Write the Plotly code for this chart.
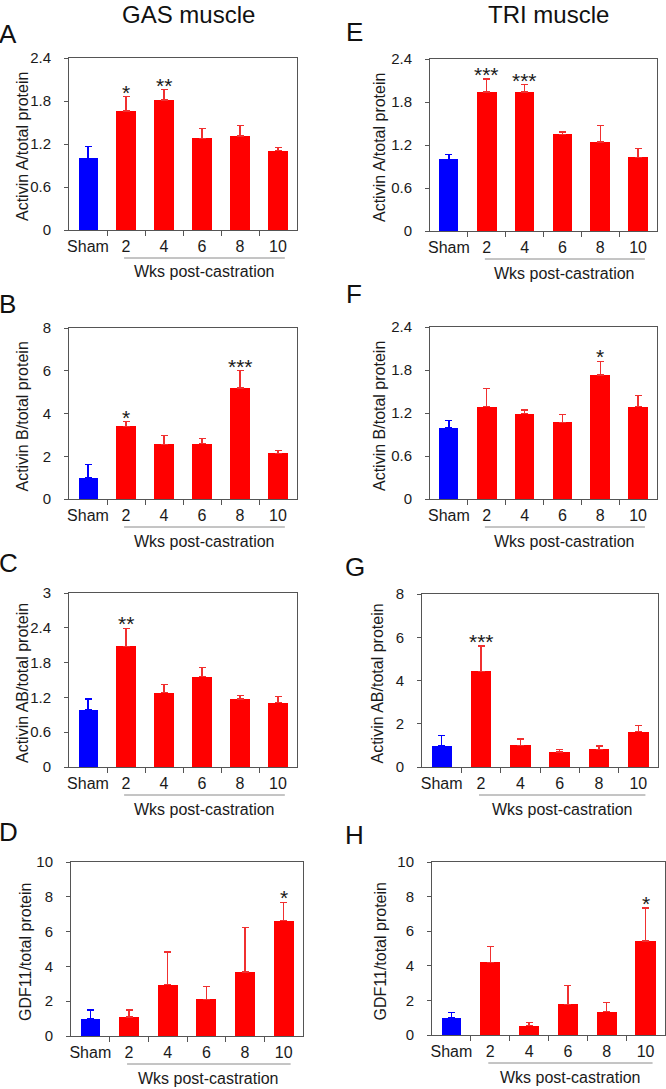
import plotly.graph_objects as go

W, H = 666, 1089

categories = ["Sham", "2", "4", "6", "8", "10"]

# Panel data (means, upper SEM, significance marks)
gas_act_a = [1.00, 1.66, 1.815, 1.28, 1.31, 1.105]
gas_act_a_err = [0.17, 0.20, 0.145, 0.14, 0.15, 0.045]
gas_act_a_sig = ["", "*", "**", "", "", ""]

tri_act_a = [1.00, 1.94, 1.94, 1.35, 1.24, 1.03]
tri_act_a_err = [0.065, 0.18, 0.10, 0.03, 0.23, 0.12]
tri_act_a_sig = ["", "***", "***", "", "", ""]

gas_act_b = [1.00, 3.40, 2.55, 2.59, 5.19, 2.13]
gas_act_b_err = [0.60, 0.22, 0.42, 0.25, 0.81, 0.15]
gas_act_b_sig = ["", "*", "", "", "***", ""]

tri_act_b = [0.99, 1.29, 1.19, 1.07, 1.73, 1.29]
tri_act_b_err = [0.11, 0.25, 0.05, 0.11, 0.19, 0.15]
tri_act_b_sig = ["", "", "", "", "*", ""]

gas_act_ab = [0.99, 2.08, 1.28, 1.56, 1.17, 1.11]
gas_act_ab_err = [0.18, 0.31, 0.14, 0.15, 0.06, 0.11]
gas_act_ab_sig = ["", "**", "", "", "", ""]

tri_act_ab = [0.99, 4.43, 1.00, 0.70, 0.82, 1.64]
tri_act_ab_err = [0.46, 1.16, 0.30, 0.12, 0.15, 0.28]
tri_act_ab_sig = ["", "***", "", "", "", ""]

gas_gdf11 = [1.00, 1.10, 2.94, 2.10, 3.67, 6.63]
gas_gdf11_err = [0.50, 0.40, 1.89, 0.73, 2.56, 1.06]
gas_gdf11_sig = ["", "", "", "", "", "*"]

tri_gdf11 = [1.00, 4.21, 0.54, 1.78, 1.35, 5.44]
tri_gdf11_err = [0.29, 0.89, 0.17, 1.08, 0.52, 1.90]
tri_gdf11_sig = ["", "", "", "", "", "*"]

ticks_24 = [0, 0.6, 1.2, 1.8, 2.4]
ticks_8 = [0, 2, 4, 6, 8]
ticks_3 = [0, 0.6, 1.2, 1.8, 2.4, 3]
ticks_10 = [0, 2, 4, 6, 8, 10]

panels = [
    dict(letter="A", ytitle="Activin A/total protein", y=gas_act_a, e=gas_act_a_err, s=gas_act_a_sig, ticks=ticks_24),
    dict(letter="E", ytitle="Activin A/total protein", y=tri_act_a, e=tri_act_a_err, s=tri_act_a_sig, ticks=ticks_24),
    dict(letter="B", ytitle="Activin B/total protein", y=gas_act_b, e=gas_act_b_err, s=gas_act_b_sig, ticks=ticks_8),
    dict(letter="F", ytitle="Activin B/total protein", y=tri_act_b, e=tri_act_b_err, s=tri_act_b_sig, ticks=ticks_24),
    dict(letter="C", ytitle="Activin AB/total protein", y=gas_act_ab, e=gas_act_ab_err, s=gas_act_ab_sig, ticks=ticks_3),
    dict(letter="G", ytitle="Activin AB/total protein", y=tri_act_ab, e=tri_act_ab_err, s=tri_act_ab_sig, ticks=ticks_8),
    dict(letter="D", ytitle="GDF11/total protein", y=gas_gdf11, e=gas_gdf11_err, s=gas_gdf11_sig, ticks=ticks_10),
    dict(letter="H", ytitle="GDF11/total protein", y=tri_gdf11, e=tri_gdf11_err, s=tri_gdf11_sig, ticks=ticks_10),
]

# Layout geometry in pixels: (left, right, top, bottom) of each plot box
boxes = [
    (69, 297, 58, 230), (430, 657, 59, 231),
    (69, 297, 328, 499), (430, 657, 327, 499),
    (69, 297, 593, 767), (422, 658, 594, 767),
    (71, 303, 862, 1036), (432, 665, 862, 1035),
]
letter_pos = [(0, 34), (347, 32), (0, 304), (347, 294), (0, 563), (346, 567), (0, 832), (346, 835)]
ytitle_x = [22, 380, 22, 380, 22, 377, 25, 380]

FONT = "Liberation Sans, Arial, sans-serif"
BLUE = "#0000FF"
RED = "#FF0000"
AX = "#555555"
TXT = "#1a1a1a"

fig = go.Figure()
annotations = []
shapes = []
xs = list(range(len(categories)))

for i, p in enumerate(panels):
    k = "" if i == 0 else str(i + 1)
    xa, ya = "x" + k, "y" + k
    l, r, t, b = boxes[i]
    fig.add_trace(go.Bar(
        x=xs[:1], y=p["y"][:1], xaxis=xa, yaxis=ya, width=0.5,
        marker=dict(color=BLUE, line=dict(width=0)),
        error_y=dict(type="data", symmetric=False, array=p["e"][:1], arrayminus=[0],
                     color=BLUE, thickness=1.3, width=3.5),
        showlegend=False, hoverinfo="skip"))
    fig.add_trace(go.Bar(
        x=xs[1:], y=p["y"][1:], xaxis=xa, yaxis=ya, width=0.52,
        marker=dict(color=RED, line=dict(width=0)),
        error_y=dict(type="data", symmetric=False, array=p["e"][1:], arrayminus=[0] * 5,
                     color="#F03030", thickness=1.3, width=3.5),
        showlegend=False, hoverinfo="skip"))
    fig.layout["xaxis" + k] = dict(
        domain=[l / W, r / W], anchor=ya, range=[-0.5, 5.5],
        tickmode="array", tickvals=xs, ticktext=categories, ticks="",
        ticklabelstandoff=2, automargin=False,
        minor=dict(tickvals=[0.5, 1.5, 2.5, 3.5, 4.5], ticks="outside", ticklen=5,
                   tickcolor=AX, tickwidth=1),
        showline=True, linecolor=AX, linewidth=1, mirror=True,
        showgrid=False, zeroline=False, fixedrange=True,
        tickfont=dict(family=FONT, size=16, color=TXT))
    fig.layout["yaxis" + k] = dict(
        domain=[1 - b / H, 1 - t / H], anchor=xa, range=[0, p["ticks"][-1]],
        tickmode="array", tickvals=p["ticks"], ticks="outside", ticklen=4,
        tickcolor=AX, ticklabelstandoff=10, automargin=False,
        showline=True, linecolor=AX, linewidth=1, mirror=True,
        showgrid=False, zeroline=False, fixedrange=True,
        tickfont=dict(family=FONT, size=15, color=TXT))
    # y-axis title
    annotations.append(dict(x=ytitle_x[i] / W, y=1 - ((t + b) / 2 + 3) / H, xref="paper", yref="paper",
                            text=p["ytitle"], textangle=-90, showarrow=False,
                            xanchor="center", yanchor="middle",
                            font=dict(family=FONT, size=16, color=TXT)))
    # significance marks
    for j, s in enumerate(p["s"]):
        if s:
            annotations.append(dict(
                x=xs[j], y=p["y"][j] + p["e"][j], xref=xa, yref=ya, text=s, showarrow=False,
                yanchor="bottom", yshift=-9, font=dict(family=FONT, size=21, color=TXT)))
    # "Wks post-castration" bracket line and label
    shapes.append(dict(type="line", xref=xa, yref="paper", x0=0.95, x1=5.18,
                       y0=1 - (b + 28) / H, y1=1 - (b + 28) / H,
                       line=dict(color="#8a8a8a", width=1)))
    annotations.append(dict(x=3.05, y=1 - (b + 42) / H, xref=xa, yref="paper",
                            text="Wks post-castration", showarrow=False,
                            xanchor="center", yanchor="middle",
                            font=dict(family=FONT, size=16, color=TXT)))
    lx, ly = letter_pos[i]
    annotations.append(dict(x=lx / W, y=1 - ly / H, xref="paper", yref="paper",
                            text=p["letter"], showarrow=False, xanchor="left", yanchor="middle",
                            xshift=-3, font=dict(family=FONT, size=26, color="#111111")))

annotations.append(dict(x=188 / W, y=1, xref="paper", yref="paper", text="GAS muscle",
                        showarrow=False, xanchor="center", yanchor="top", borderpad=0,
                        font=dict(family=FONT, size=24, color="#111111")))
annotations.append(dict(x=548 / W, y=1, xref="paper", yref="paper", text="TRI muscle",
                        showarrow=False, xanchor="center", yanchor="top", borderpad=0,
                        font=dict(family=FONT, size=24, color="#111111")))

fig.update_layout(
    width=W, height=H,
    margin=dict(l=0, r=0, t=0, b=0, pad=0, autoexpand=False),
    paper_bgcolor="white", plot_bgcolor="white",
    annotations=annotations, shapes=shapes, bargap=0, showlegend=False,
    font=dict(family=FONT))

fig.write_html("out.html", config={"displayModeBar": False},
               post_script="document.body.style.margin='0';document.body.style.overflow='hidden';")
